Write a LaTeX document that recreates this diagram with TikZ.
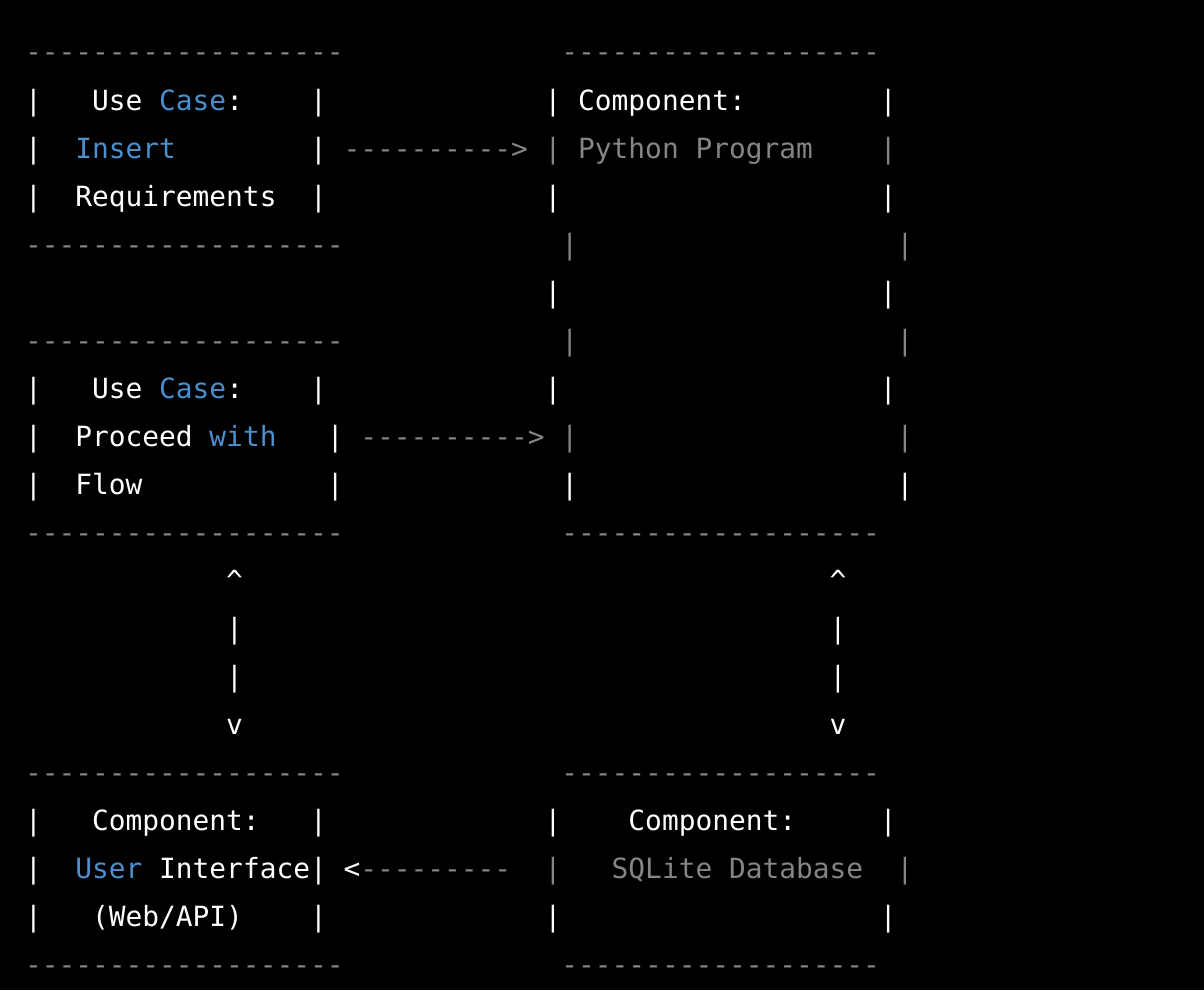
\documentclass[tikz,border=0pt]{standalone}
\usepackage{fontspec}
\newfontfamily\monofam{DejaVu Sans Mono}
\definecolor{cblue}{HTML}{4B8FCD}
\definecolor{cgrey}{HTML}{858585}
% \seg{name}{row}{col}{style}{text}
\newcommand{\seg}[5]{\node[#4] (#1) at ({25.12+#3*16.76},{62+48*#2}) {#5};}
\begin{document}
\begin{tikzpicture}[x=1pt,y=-1pt,
  ascii/.style={anchor=base west, inner sep=0pt, outer sep=0pt, font=\monofam\fontsize{27.84}{33}\selectfont},
  fg/.style={ascii,text=white},
  dim/.style={ascii,text=cgrey},
  hl/.style={ascii,text=cblue}]
\fill[black] (0,0) rectangle (1204,990);
\useasboundingbox (0,0) rectangle (1204,990);
\def\dashes{-{}-{}-{}-{}-{}-{}-{}-{}-{}-{}-{}-{}-{}-{}-{}-{}-{}-{}-}
% row 0
\seg{r0a}{0}{0}{dim}{\dashes}
\seg{r0b}{0}{32}{dim}{\dashes}
% row 1
\seg{r1a}{1}{0}{fg}{|}
\seg{r1b}{1}{4}{fg}{Use \textcolor{cblue}{Case}:}
\seg{r1c}{1}{17}{fg}{|}
\seg{r1d}{1}{31}{fg}{|}
\seg{r1e}{1}{33}{fg}{Component:}
\seg{r1f}{1}{51}{fg}{|}
% row 2
\seg{r2a}{2}{0}{fg}{|}
\seg{r2b}{2}{3}{hl}{Insert}
\seg{r2c}{2}{17}{fg}{|}
\seg{r2d}{2}{19}{dim}{-{}-{}-{}-{}-{}-{}-{}-{}-{}->}
\seg{r2e}{2}{31}{dim}{|}
\seg{r2f}{2}{33}{dim}{Python Program}
\seg{r2g}{2}{51}{dim}{|}
% row 3
\seg{r3a}{3}{0}{fg}{|}
\seg{r3b}{3}{3}{fg}{Requirements}
\seg{r3c}{3}{17}{fg}{|}
\seg{r3d}{3}{31}{fg}{|}
\seg{r3e}{3}{51}{fg}{|}
% row 4
\seg{r4a}{4}{0}{dim}{\dashes}
\seg{r4b}{4}{32}{dim}{|}
\seg{r4c}{4}{52}{dim}{|}
% row 5
\seg{r5a}{5}{31}{fg}{|}
\seg{r5b}{5}{51}{fg}{|}
% row 6
\seg{r6a}{6}{0}{dim}{\dashes}
\seg{r6b}{6}{32}{dim}{|}
\seg{r6c}{6}{52}{dim}{|}
% row 7
\seg{r7a}{7}{0}{fg}{|}
\seg{r7b}{7}{4}{fg}{Use \textcolor{cblue}{Case}:}
\seg{r7c}{7}{17}{fg}{|}
\seg{r7d}{7}{31}{fg}{|}
\seg{r7e}{7}{51}{fg}{|}
% row 8
\seg{r8a}{8}{0}{fg}{|}
\seg{r8b}{8}{3}{fg}{Proceed \textcolor{cblue}{with}}
\seg{r8c}{8}{18}{fg}{|}
\seg{r8d}{8}{20}{dim}{-{}-{}-{}-{}-{}-{}-{}-{}-{}->}
\seg{r8e}{8}{32}{dim}{|}
\seg{r8f}{8}{52}{dim}{|}
% row 9
\seg{r9a}{9}{0}{fg}{|}
\seg{r9b}{9}{3}{fg}{Flow}
\seg{r9c}{9}{18}{fg}{|}
\seg{r9d}{9}{32}{fg}{|}
\seg{r9e}{9}{52}{fg}{|}
% row 10
\seg{r10a}{10}{0}{dim}{\dashes}
\seg{r10b}{10}{32}{dim}{\dashes}
% rows 11-14: vertical arrows
\seg{r11a}{11}{12}{fg}{\textasciicircum}
\seg{r11b}{11}{48}{fg}{\textasciicircum}
\seg{r12a}{12}{12}{fg}{|}
\seg{r12b}{12}{48}{fg}{|}
\seg{r13a}{13}{12}{fg}{|}
\seg{r13b}{13}{48}{fg}{|}
\seg{r14a}{14}{12}{fg}{v}
\seg{r14b}{14}{48}{fg}{v}
% row 15
\seg{r15a}{15}{0}{dim}{\dashes}
\seg{r15b}{15}{32}{dim}{\dashes}
% row 16
\seg{r16a}{16}{0}{fg}{|}
\seg{r16b}{16}{4}{fg}{Component:}
\seg{r16c}{16}{17}{fg}{|}
\seg{r16d}{16}{31}{fg}{|}
\seg{r16e}{16}{36}{fg}{Component:}
\seg{r16f}{16}{51}{fg}{|}
% row 17
\seg{r17a}{17}{0}{fg}{|}
\seg{r17b}{17}{3}{fg}{\textcolor{cblue}{User} Interface}
\seg{r17c}{17}{17}{fg}{|}
\seg{r17d}{17}{19}{fg}{<}
\seg{r17e}{17}{20}{dim}{-{}-{}-{}-{}-{}-{}-{}-{}-}
\seg{r17f}{17}{31}{dim}{|}
\seg{r17g}{17}{35}{dim}{SQLite Database}
\seg{r17h}{17}{52}{dim}{|}
% row 18
\seg{r18a}{18}{0}{fg}{|}
\seg{r18b}{18}{4}{fg}{(Web/API)}
\seg{r18c}{18}{17}{fg}{|}
\seg{r18d}{18}{31}{fg}{|}
\seg{r18e}{18}{51}{fg}{|}
% row 19
\seg{r19a}{19}{0}{dim}{\dashes}
\seg{r19b}{19}{32}{dim}{\dashes}
\end{tikzpicture}
\end{document}
